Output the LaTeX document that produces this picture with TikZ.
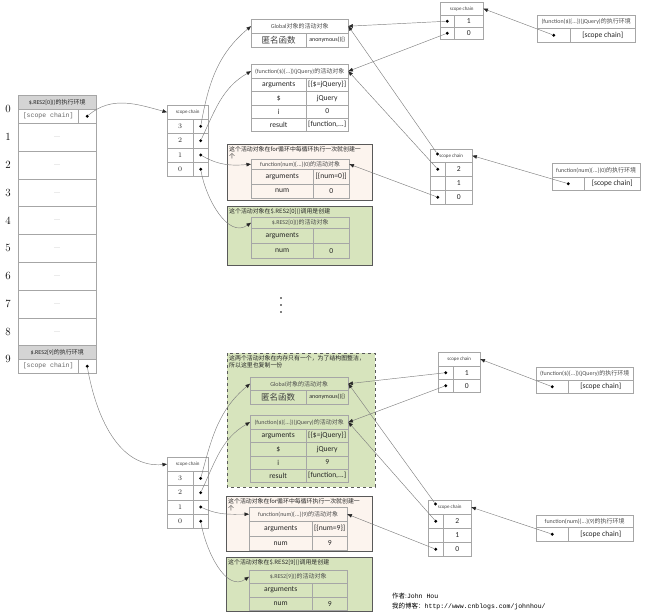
\documentclass[tikz,border=0pt]{standalone}
\usepackage{fontspec}
\newfontfamily\calibri{Carlito}
\newfontfamily\cjk{Noto Sans CJK SC}
\newfontfamily\monofont{Liberation Mono}
\usetikzlibrary{arrows.meta}

\definecolor{cellgray}{HTML}{A6A6A6}
\definecolor{headgray}{HTML}{D4D4D4}
\definecolor{pinkbg}{HTML}{FCF4EE}
\definecolor{greenbg}{HTML}{D7E4BD}
\definecolor{boxline}{HTML}{595959}
\definecolor{linkgray}{HTML}{808080}

\newcommand\fsTitle{\fontsize{6}{7}\selectfont}
\newcommand\fsScope{\fontsize{5}{6}\selectfont}
\newcommand\fsCell{\fontsize{7.6}{8}\selectfont}
\newcommand\fsIndex{\fontsize{7}{8}\selectfont}
\newcommand\fsNote{\fontsize{5.9}{7.2}\selectfont}
\newcommand\fsBig{\fontsize{8.5}{9}\selectfont}
\newcommand\fsDigit{\fontsize{11}{12}\selectfont}
\newcommand\fsMono{\fontsize{6.5}{7}\selectfont}
\newcommand\fsAuthor{\fontsize{6.5}{8}\selectfont}
\newcommand\zh[1]{{\cjk #1}}

\tikzset{
  cell/.style={draw=cellgray, anchor=north west, inner sep=0pt, minimum height=14pt,
    font=\calibri\fsCell, text=black!85},
  headcell/.style={cell, font=\calibri\fsTitle, text=black!70},
  scopehead/.style={cell, font=\calibri\fsScope, text=black!75},
  notetext/.style={anchor=north west, inner sep=0pt, font=\cjk\fsNote, align=left, text=black!85},
  holder/.style={draw=boxline, line width=0.9pt},
  ptrdot/.style={circle, fill=black, inner sep=0pt, minimum size=3.2pt},
  gapdot/.style={circle, fill=black, inner sep=0pt, minimum size=1.6pt},
  link/.style={draw=linkgray, line width=0.45pt, -{Triangle[length=4.5pt,width=3.6pt,color=black!85]}},
}

\begin{document}
\begin{tikzpicture}[x=1pt,y=-1pt]
  \useasboundingbox (0,0) rectangle (650,613);

  % execution stack
  \node[headcell, fill=headgray, minimum width=78pt, text=black!85] (st0) at (18,95) {\$.RES2[0]()\zh{的执行环境}};
  \node[cell, minimum width=60pt, font=\monofont\fsMono, text=black!60] (st0sc) at (18,109) {[scope chain]};
  \node[cell, minimum width=18pt] (st0p) at (78,109) {};
  \node[ptrdot] (st0d) at (st0p.center) {};
  \node[cell, minimum width=78pt, minimum height=27.8pt, font=\fsScope] (st1) at (18,123) {...};
  \node[cell, minimum width=78pt, minimum height=27.8pt, font=\fsScope] (st2) at (18,150.8) {...};
  \node[cell, minimum width=78pt, minimum height=27.8pt, font=\fsScope] (st3) at (18,178.6) {...};
  \node[cell, minimum width=78pt, minimum height=27.8pt, font=\fsScope] (st4) at (18,206.4) {...};
  \node[cell, minimum width=78pt, minimum height=27.8pt, font=\fsScope] (st5) at (18,234.2) {...};
  \node[cell, minimum width=78pt, minimum height=27.8pt, font=\fsScope] (st6) at (18,262) {...};
  \node[cell, minimum width=78pt, minimum height=27.8pt, font=\fsScope] (st7) at (18,289.8) {...};
  \node[cell, minimum width=78pt, minimum height=27.8pt, font=\fsScope] (st8) at (18,317.6) {...};
  \node[headcell, fill=headgray, minimum width=78pt, minimum height=13.6pt, text=black!85] (st9) at (18,345.4) {\$.RES2[9]\zh{的执行环境}};
  \node[cell, minimum width=60pt, font=\monofont\fsMono, text=black!60] (st9sc) at (18,359) {[scope chain]};
  \node[cell, minimum width=18pt] (st9p) at (78,359) {};
  \node[ptrdot] (st9d) at (st9p.center) {};

  \node[font=\fsDigit] (lb0) at (8,109) {0};
  \node[font=\fsDigit] (lb1) at (8,136.9) {1};
  \node[font=\fsDigit] (lb2) at (8,164.7) {2};
  \node[font=\fsDigit] (lb3) at (8,192.5) {3};
  \node[font=\fsDigit] (lb4) at (8,220.3) {4};
  \node[font=\fsDigit] (lb5) at (8,248.1) {5};
  \node[font=\fsDigit] (lb6) at (8,275.9) {6};
  \node[font=\fsDigit] (lb7) at (8,303.7) {7};
  \node[font=\fsDigit] (lb8) at (8,331.5) {8};
  \node[font=\fsDigit] (lb9) at (8,359) {9};

  % scope chain of $.RES2[0]
  \node[scopehead, minimum width=41pt] (saH) at (167,105) {scope chain};
  \node[cell, minimum width=26pt, minimum height=14.3pt, font=\fsIndex] (sa3) at (167,119) {3};
  \node[cell, minimum width=15pt, minimum height=14.3pt] (sa3p) at (193,119) {};
  \node[cell, minimum width=26pt, minimum height=14.3pt, font=\fsIndex] (sa2) at (167,133.3) {2};
  \node[cell, minimum width=15pt, minimum height=14.3pt] (sa2p) at (193,133.3) {};
  \node[cell, minimum width=26pt, minimum height=14.3pt, font=\fsIndex] (sa1) at (167,147.6) {1};
  \node[cell, minimum width=15pt, minimum height=14.3pt] (sa1p) at (193,147.6) {};
  \node[cell, minimum width=26pt, minimum height=14.3pt, font=\fsIndex] (sa0) at (167,161.9) {0};
  \node[cell, minimum width=15pt, minimum height=14.3pt] (sa0p) at (193,161.9) {};
  \node[ptrdot] (sa3d) at (sa3p.center) {};
  \node[ptrdot] (sa2d) at (sa2p.center) {};
  \node[ptrdot] (sa1d) at (sa1p.center) {};
  \node[ptrdot] (sa0d) at (sa0p.center) {};

  % global activation object
  \node[headcell, minimum width=97pt] (ga) at (251,19) {Global\zh{对象的活动对象}};
  \node[cell, minimum width=55pt, font=\cjk\fsBig, text=black!75] (ga1) at (251,33) {匿名函数};
  \node[cell, minimum width=42pt, font=\calibri\fsTitle] (ga2) at (306,33) {anonymous()\{\}};

  % (function($){...})(jQuery) activation object
  \node[headcell, minimum width=97pt] (fa) at (251,64) {(function(\$)\{...\})(jQuery)\zh{的活动对象}};
  \node[cell, minimum width=55pt, minimum height=13.3pt] (fa1) at (251,78) {arguments};
  \node[cell, minimum width=42pt, minimum height=13.3pt] (fa1v) at (306,78) {[\{\$=jQuery\}]};
  \node[cell, minimum width=55pt, minimum height=13.3pt] (fa2) at (251,91.3) {\$};
  \node[cell, minimum width=42pt, minimum height=13.3pt] (fa2v) at (306,91.3) {jQuery};
  \node[cell, minimum width=55pt, minimum height=13.3pt] (fa3) at (251,104.6) {i};
  \node[cell, minimum width=42pt, minimum height=13.3pt] (fa3v) at (306,104.6) {0};
  \node[cell, minimum width=55pt, minimum height=13.3pt] (fa4) at (251,117.9) {result};
  \node[cell, minimum width=42pt, minimum height=13.3pt] (fa4v) at (306,117.9) {[function,...]};

  % function(num) activation object, i = 0
  \draw[holder, fill=pinkbg] (227,144) rectangle (372,200);
  \node[notetext] (pan) at (229,146) {这个活动对象在for循环中每循环执行一次就创建一\\个};
  \node[headcell, minimum width=98pt, minimum height=10pt] (pa) at (251,159) {function(num)\{...\}(0)\zh{的活动对象}};
  \node[cell, minimum width=62pt, minimum height=14.5pt] (pa1) at (251,169) {arguments};
  \node[cell, minimum width=36pt, minimum height=14.5pt] (pa1v) at (313,169) {[\{num=0\}]};
  \node[cell, minimum width=62pt, minimum height=14.5pt] (pa2) at (251,183.5) {num};
  \node[cell, minimum width=36pt, minimum height=14.5pt] (pa2v) at (313,183.5) {0};

  % $.RES2[0]() activation object
  \draw[holder, fill=greenbg] (227,206) rectangle (372,265);
  \node[notetext] (ran) at (229,208) {这个活动对象在\$.RES2[0]()调用是创建};
  \node[headcell, minimum width=98pt, minimum height=11pt] (ra) at (251,217) {\$.RES2[0]()\zh{的活动对象}};
  \node[cell, minimum width=62pt, minimum height=15pt] (ra1) at (251,228) {arguments};
  \node[cell, minimum width=36pt, minimum height=15pt] (ra1v) at (313,228) {};
  \node[cell, minimum width=62pt, minimum height=15pt] (ra2) at (251,243) {num};
  \node[cell, minimum width=36pt, minimum height=15pt] (ra2v) at (313,243) {0};

  \node[gapdot] (gap1) at (281,298) {};
  \node[gapdot] (gap2) at (281,305) {};
  \node[gapdot] (gap3) at (281,312) {};

  % scope chain of (function($){...})(jQuery)
  \node[scopehead, minimum width=43pt, minimum height=13pt] (scH) at (440,2) {scope chain};
  \node[cell, minimum width=14pt, minimum height=12pt] (sc1p) at (440,15) {};
  \node[cell, minimum width=29pt, minimum height=12pt] (sc1) at (454,15) {1};
  \node[cell, minimum width=14pt, minimum height=12pt] (sc0p) at (440,27) {};
  \node[cell, minimum width=29pt, minimum height=12pt] (sc0) at (454,27) {0};
  \node[ptrdot] (sc1d) at (sc1p.center) {};
  \node[ptrdot] (sc0d) at (sc0p.center) {};

  \node[headcell, minimum width=98pt, minimum height=13pt] (ec) at (537,15) {(function(\$)\{...\})(jQuery)\zh{的执行环境}};
  \node[cell, minimum width=33pt] (ecp) at (537,28) {};
  \node[cell, minimum width=65pt] (ecs) at (570,28) {[scope chain]};
  \node[ptrdot] (ecd) at (ecp.center) {};

  % scope chain of function(num), i = 0
  \node[scopehead, minimum width=42pt, minimum height=13pt] (sdH) at (430,149) {scope chain};
  \node[cell, minimum width=15pt] (sd2p) at (430,162) {};
  \node[cell, minimum width=27pt] (sd2) at (445,162) {2};
  \node[cell, minimum width=15pt] (sd1p) at (430,176) {};
  \node[cell, minimum width=27pt] (sd1) at (445,176) {1};
  \node[cell, minimum width=15pt] (sd0p) at (430,190) {};
  \node[cell, minimum width=27pt] (sd0) at (445,190) {0};
  \node[ptrdot] (sdHd) at (437.5,154) {};
  \node[ptrdot] (sd2d) at (sd2p.center) {};
  \node[ptrdot] (sd0d) at (sd0p.center) {};

  \node[headcell, minimum width=88pt] (ed) at (552,163) {function(num)\{...\}(0)\zh{的执行环境}};
  \node[cell, minimum width=32pt, minimum height=13pt] (edp) at (552,177) {};
  \node[cell, minimum width=56pt, minimum height=13pt] (eds) at (584,177) {[scope chain]};
  \node[ptrdot] (edd) at (edp.center) {};

  % scope chain of $.RES2[9]
  \node[scopehead, minimum width=41pt] (sbH) at (167,457) {scope chain};
  \node[cell, minimum width=26pt, minimum height=14.3pt, font=\fsIndex] (sb3) at (167,471) {3};
  \node[cell, minimum width=15pt, minimum height=14.3pt] (sb3p) at (193,471) {};
  \node[cell, minimum width=26pt, minimum height=14.3pt, font=\fsIndex] (sb2) at (167,485.3) {2};
  \node[cell, minimum width=15pt, minimum height=14.3pt] (sb2p) at (193,485.3) {};
  \node[cell, minimum width=26pt, minimum height=14.3pt, font=\fsIndex] (sb1) at (167,499.6) {1};
  \node[cell, minimum width=15pt, minimum height=14.3pt] (sb1p) at (193,499.6) {};
  \node[cell, minimum width=26pt, minimum height=14.3pt, font=\fsIndex] (sb0) at (167,513.9) {0};
  \node[cell, minimum width=15pt, minimum height=14.3pt] (sb0p) at (193,513.9) {};
  \node[ptrdot] (sb3d) at (sb3p.center) {};
  \node[ptrdot] (sb2d) at (sb2p.center) {};
  \node[ptrdot] (sb1d) at (sb1p.center) {};
  \node[ptrdot] (sb0d) at (sb0p.center) {};

  % copies of the shared activation objects
  \draw[holder, dashed, fill=greenbg] (227,353) rectangle (375,487);
  \node[notetext] (gbn) at (229,355) {这两个活动对象在内存只有一个，为了结构图整洁，\\所以这里也复制一份};
  \node[headcell, minimum width=98pt, minimum height=13pt] (gb) at (250,377) {Global\zh{对象的活动对象}};
  \node[cell, minimum width=56pt, font=\cjk\fsBig, text=black!75] (gb1) at (250,390) {匿名函数};
  \node[cell, minimum width=42pt, font=\calibri\fsTitle] (gb2) at (306,390) {anonymous()\{\}};

  \node[headcell, minimum width=98pt] (fb) at (250,415) {(function(\$)\{...\})(jQuery)\zh{的活动对象}};
  \node[cell, minimum width=56pt, minimum height=13.3pt] (fb1) at (250,429) {arguments};
  \node[cell, minimum width=42pt, minimum height=13.3pt] (fb1v) at (306,429) {[\{\$=jQuery\}]};
  \node[cell, minimum width=56pt, minimum height=13.3pt] (fb2) at (250,442.3) {\$};
  \node[cell, minimum width=42pt, minimum height=13.3pt] (fb2v) at (306,442.3) {jQuery};
  \node[cell, minimum width=56pt, minimum height=13.3pt] (fb3) at (250,455.6) {i};
  \node[cell, minimum width=42pt, minimum height=13.3pt] (fb3v) at (306,455.6) {9};
  \node[cell, minimum width=56pt, minimum height=13.3pt] (fb4) at (250,468.9) {result};
  \node[cell, minimum width=42pt, minimum height=13.3pt] (fb4v) at (306,468.9) {[function,...]};

  % function(num) activation object, i = 9
  \draw[holder, fill=pinkbg] (226,496) rectangle (372,551);
  \node[notetext] (pbn) at (228,498) {这个活动对象在for循环中每循环执行一次就创建一\\个};
  \node[headcell, minimum width=98pt] (pb) at (249,507) {function(num)\{...\}(9)\zh{的活动对象}};
  \node[cell, minimum width=63pt, minimum height=15pt] (pb1) at (249,521) {arguments};
  \node[cell, minimum width=35pt, minimum height=15pt] (pb1v) at (312,521) {[\{num=9\}]};
  \node[cell, minimum width=63pt] (pb2) at (249,536) {num};
  \node[cell, minimum width=35pt] (pb2v) at (312,536) {9};

  % $.RES2[9]() activation object
  \draw[holder, fill=greenbg] (226,557) rectangle (372,611.5);
  \node[notetext] (rbn) at (228,559) {这个活动对象在\$.RES2[9]()调用是创建};
  \node[headcell, minimum width=98pt, minimum height=13pt] (rb) at (249,570) {\$.RES2[9]()\zh{的活动对象}};
  \node[cell, minimum width=63pt] (rb1) at (249,583) {arguments};
  \node[cell, minimum width=35pt] (rb1v) at (312,583) {};
  \node[cell, minimum width=63pt, minimum height=13pt] (rb2) at (249,597) {num};
  \node[cell, minimum width=35pt, minimum height=13pt] (rb2v) at (312,597) {9};

  % scope chain of (function($){...})(jQuery), copy
  \node[scopehead, minimum width=42pt] (seH) at (438,352) {scope chain};
  \node[cell, minimum width=15pt, minimum height=13pt] (se1p) at (438,366) {};
  \node[cell, minimum width=27pt, minimum height=13pt] (se1) at (453,366) {1};
  \node[cell, minimum width=15pt, minimum height=13pt] (se0p) at (438,379) {};
  \node[cell, minimum width=27pt, minimum height=13pt] (se0) at (453,379) {0};
  \node[ptrdot] (se1d) at (se1p.center) {};
  \node[ptrdot] (se0d) at (se0p.center) {};

  \node[headcell, minimum width=97pt, minimum height=13pt] (ee) at (536,367) {(function(\$)\{...\})(jQuery)\zh{的执行环境}};
  \node[cell, minimum width=32pt, minimum height=13pt] (eep) at (536,380) {};
  \node[cell, minimum width=65pt, minimum height=13pt] (ees) at (568,380) {[scope chain]};
  \node[ptrdot] (eed) at (eep.center) {};

  % scope chain of function(num), i = 9
  \node[scopehead, minimum width=43pt] (sfH) at (428,500) {scope chain};
  \node[cell, minimum width=15pt] (sf2p) at (428,514) {};
  \node[cell, minimum width=28pt] (sf2) at (443,514) {2};
  \node[cell, minimum width=15pt] (sf1p) at (428,528) {};
  \node[cell, minimum width=28pt] (sf1) at (443,528) {1};
  \node[cell, minimum width=15pt] (sf0p) at (428,542) {};
  \node[cell, minimum width=28pt] (sf0) at (443,542) {0};
  \node[ptrdot] (sfHd) at (435.5,504) {};
  \node[ptrdot] (sf2d) at (sf2p.center) {};
  \node[ptrdot] (sf0d) at (sf0p.center) {};

  \node[headcell, minimum width=97pt, minimum height=12pt] (ef) at (536,515) {function(num)\{...\}(9)\zh{的执行环境}};
  \node[cell, minimum width=32pt] (efp) at (536,527) {};
  \node[cell, minimum width=65pt] (efs) at (568,527) {[scope chain]};
  \node[ptrdot] (efd) at (efp.center) {};

  \node[anchor=west, inner sep=0pt, font=\fsAuthor] (au1) at (392,596) {\zh{作者:}\monofont John Hou};
  \node[anchor=west, inner sep=0pt, font=\fsAuthor] (au2) at (392,606) {\zh{我的博客：}\monofont http://www.cnblogs.com/johnhou/};

  % pointers
  \draw[link] (st0d) to[out=40,in=165] (saH.west);
  \draw[link] (st9d) to[out=-80,in=185] (sbH.west);
  \draw[link] (sa3d) to[out=80,in=220] (ga.west);
  \draw[link] (sa2d) to[out=65,in=210] (fa.west);
  \draw[link] (sa1d) to[out=-30,in=185] (pa.west);
  \draw[link] (sa0d) to[out=-80,in=215] (ra.west);
  \draw[link] (sc1d) -- (ga.east);
  \draw[link] (sc0d) -- (fa.east);
  \draw[link] (ecd) -- (scH.east);
  \draw[link] (sdHd) -- (ga.east);
  \draw[link] (sd2d) -- (fa.east);
  \draw[link] (sd0d) -- (pa.east);
  \draw[link] (edd) -- (sdH.east);

  \draw[link] (sb3d) to[out=75,in=220] (gb.west);
  \draw[link] (sb2d) to[out=65,in=210] (fb.west);
  \draw[link] (sb1d) to[out=-25,in=180] (pb.west);
  \draw[link] (sb0d) to[out=-80,in=215] (rb.west);
  \draw[link] (se1d) -- (gb.east);
  \draw[link] (se0d) -- (fb.east);
  \draw[link] (eed) -- (seH.east);
  \draw[link] (sfHd) -- (gb.east);
  \draw[link] (sf2d) -- (fb.east);
  \draw[link] (sf0d) -- (pb.east);
  \draw[link] (efd) -- (sfH.east);
\end{tikzpicture}
\end{document}
